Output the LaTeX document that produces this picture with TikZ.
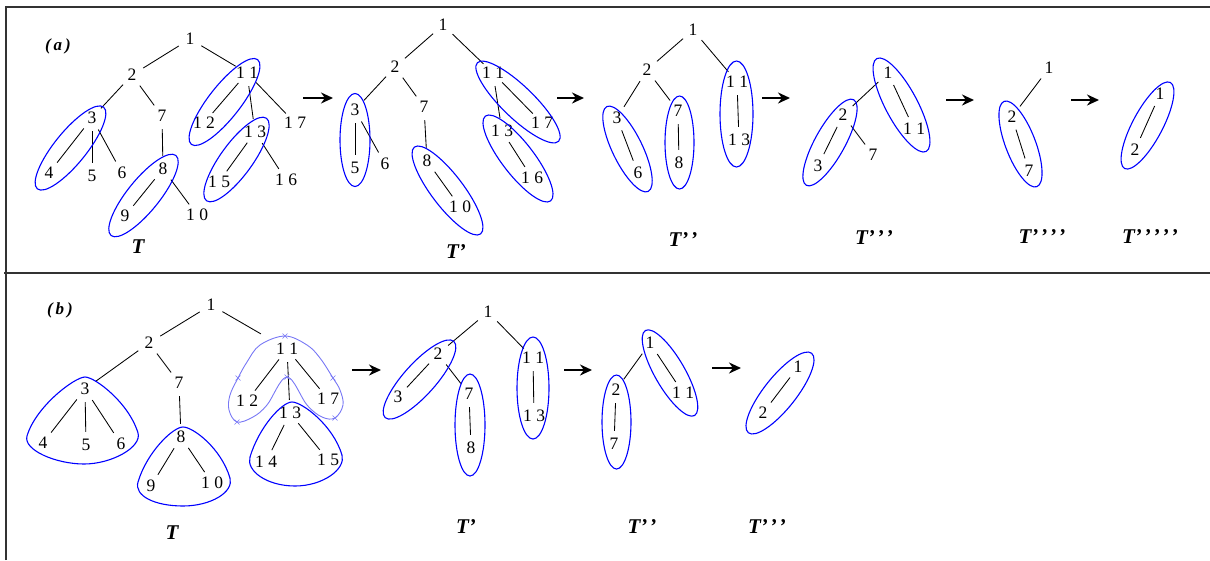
\documentclass[tikz,border=0pt]{standalone}
\usepackage{fontspec}
\setmainfont{Liberation Serif}
\usetikzlibrary{arrows.meta}
\newcommand\tw[2]{#1\kern4.5pt#2}
\newcommand\pp{’\kern2pt}
\newcommand\grp[5]{\draw[grp, rotate around={#3:(#1,#2)}] (#1,#2) ellipse [x radius=#4pt, y radius=#5pt];}
\newcommand\rtri[8]{\draw[grp, line cap=round] (#1,#2) .. controls +(-10,0) and +(9,-30) .. (#3,#4) .. controls +(-4,14) and +(-28,0) .. (#5,#6) .. controls +(28,0) and +(4,14) .. (#7,#8) .. controls +(-9,-30) and +(10,0) .. (#1,#2);}
\definecolor{heartblue}{RGB}{120,120,245}
\begin{document}
\begin{tikzpicture}[x=1pt,y=-1pt,
  v/.style={circle,inner sep=0pt,minimum size=26pt,font=\fontsize{17.5}{17.5}\selectfont},
  e/.style={black,line width=0.85pt},
  grp/.style={blue,line width=1.1pt},
  lab/.style={font=\fontsize{21}{21}\selectfont\bfseries\itshape},
  plab/.style={font=\fontsize{17}{17}\selectfont\bfseries\itshape},
  arr/.style={-{Stealth[length=12pt,width=11pt]},line width=2pt},
  frame/.style={black!80,line width=1.2pt},
  heart/.style={heartblue,line width=0.9pt}]
\useasboundingbox (0,0) rectangle (1210,560);
% frame
\draw[frame] (6,560) -- (6,7) -- (1210,7);
\draw[frame] (4,273) -- (1210,273);
\node[plab] (la) at (58,46) {(\kern3pt a\kern3pt)};
\node[plab] (lb) at (60,310) {(\kern3pt b\kern3pt)};

% ===== panel (a): T =====
\node[v] (a1) at (190,39) {1};
\node[v] (a2) at (132,75) {2};
\node[v] (a11) at (247,73) {\tw11};
\node[v] (a3) at (92,118) {3};
\node[v] (a7) at (162,116) {7};
\node[v] (a12) at (204,123) {\tw12};
\node[v] (a17) at (295,123) {\tw17};
\node[v] (a13) at (255,132) {\tw13};
\node[v] (a4) at (49,173) {4};
\node[v] (a5) at (92,176) {5};
\node[v] (a6) at (122,173) {6};
\node[v] (a8) at (163,169) {8};
\node[v] (a15) at (219,182) {\tw15};
\node[v] (a16) at (286,180) {\tw16};
\node[v] (a9) at (125,216) {9};
\node[v] (a10) at (197,215) {\tw10};
\node[lab] (aT) at (138,247) {T};
\foreach \s/\t in {a1/a2,a1/a11,a2/a3,a2/a7,a3/a4,a3/a5,a3/a6,a7/a8,a8/a9,a8/a10,a11/a12,a11/a13,a11/a17,a13/a15,a13/a16}
  \draw[e] (\s) -- (\t);
\grp{70.5}{148}{51}{52.6}{16}
\grp{224.5}{102}{52}{53.8}{16}
\grp{143.5}{195.5}{51}{51.5}{16}
\grp{236.5}{159.5}{54}{51}{16}

% ===== T' =====
\node[v] (b1) at (443,25) {1};
\node[v] (b2) at (395,67) {2};
\node[v] (b11) at (493,73) {\tw11};
\node[v] (b3) at (355,110) {3};
\node[v] (b7) at (424,107) {7};
\node[v] (b13) at (502,131) {\tw13};
\node[v] (b17) at (542,123) {\tw17};
\node[v] (b5) at (355,168) {5};
\node[v] (b6) at (385,164) {6};
\node[v] (b8) at (427,161) {8};
\node[v] (b16) at (532,178) {\tw16};
\node[v] (b10) at (460,207) {\tw10};
\node[lab] (bT) at (457,252) {T\pp};
\foreach \s/\t in {b1/b2,b1/b11,b2/b3,b2/b7,b3/b5,b3/b6,b7/b8,b8/b10,b11/b13,b11/b17,b13/b16}
  \draw[e] (\s) -- (\t);
\grp{355}{140}{90}{46.5}{15}
\grp{447.5}{190.5}{-52.7}{54.6}{16}
\grp{518}{102}{-44}{56.5}{16}
\grp{518}{158.5}{-52.4}{53.5}{16}

% ===== T'' =====
\node[v] (c1) at (693,30) {1};
\node[v] (c2) at (647,70) {2};
\node[v] (c11) at (737,82) {\tw11};
\node[v] (c3) at (617,118) {3};
\node[v] (c7) at (678,111) {7};
\node[v] (c13) at (739,140) {\tw13};
\node[v] (c6) at (638,173) {6};
\node[v] (c8) at (679,163) {8};
\node[lab] (cT) at (684,240) {T\pp\pp};
\foreach \s/\t in {c1/c2,c1/c11,c2/c3,c2/c7,c3/c6,c7/c8,c11/c13}
  \draw[e] (\s) -- (\t);
\grp{627.5}{149}{-64}{47.2}{15}
\grp{679.5}{142.5}{90}{46.5}{14.5}
\grp{736.5}{114}{90}{53}{16.5}

% ===== T''' =====
\node[v] (d1) at (888,73) {1};
\node[v] (d2) at (843,115) {2};
\node[v] (d7) at (873,155) {7};
\node[v] (d11) at (914,129) {\tw11};
\node[v] (d3) at (818,166) {3};
\node[lab] (dT) at (875,238) {T\pp\pp\pp};
\foreach \s/\t in {d1/d2,d2/d3,d2/d7,d1/d11}
  \draw[e] (\s) -- (\t);
\grp{830}{142.5}{61}{48.9}{15}
\grp{901.5}{105}{-62}{52.6}{16}

% ===== T'''' =====
\node[v] (e1) at (1049,68) {1};
\node[v] (e2) at (1012,117) {2};
\node[v] (e7) at (1029,171) {7};
\node[lab] (eT) at (1043,237) {T\pp\pp\pp\pp};
\draw[e] (e1) -- (e2);
\draw[e] (e2) -- (e7);
\grp{1020.5}{144}{-69}{45.7}{15}

% ===== T''''' =====
\node[v] (f1) at (1160,94) {1};
\node[v] (f2) at (1135,150) {2};
\node[lab] (fT) at (1151,237) {T\pp\pp\pp\pp\pp};
\draw[e] (f1) -- (f2);
\grp{1147.5}{125.5}{62}{48.7}{15}

% arrows (a)
\coordinate (aa1) at (303,98); \coordinate (ab1) at (333,98);
\coordinate (aa2) at (557,98); \coordinate (ab2) at (584,98);
\coordinate (aa3) at (762,98); \coordinate (ab3) at (790,98);
\coordinate (aa4) at (946,100); \coordinate (ab4) at (974,100);
\coordinate (aa5) at (1071,100); \coordinate (ab5) at (1099,100);
\foreach \i in {1,...,5} \draw[arr] (aa\i) -- (ab\i);

% ===== panel (b): T =====
\node[v] (g1) at (211,305) {1};
\node[v] (g2) at (149,343) {2};
\node[v] (g11) at (287,349) {\tw11};
\node[v] (g3) at (85,389) {3};
\node[v] (g7) at (179,383) {7};
\node[v] (g12) at (247,401) {\tw12};
\node[v] (g17) at (328,399) {\tw17};
\node[v] (g13) at (290,413) {\tw13};
\node[v] (g4) at (43,443) {4};
\node[v] (g5) at (86,445) {5};
\node[v] (g6) at (121,444) {6};
\node[v] (g8) at (181,437) {8};
\node[v] (g14) at (266,462) {\tw14};
\node[v] (g15) at (328,460) {\tw15};
\node[v] (g9) at (151,486) {9};
\node[v] (g10) at (212,483) {\tw10};
\node[lab] (gT) at (172,533) {T};
\foreach \s/\t in {g1/g2,g2/g3,g2/g7,g3/g4,g3/g5,g3/g6,g7/g8,g8/g9,g8/g10,g11/g12,g11/g13,g11/g17,g13/g14,g13/g15}
  \draw[e] (\s) -- (\t);
\draw[e, shorten >=17pt] (g1) -- (g11);
\rtri{85}{377}{27}{436}{84}{464}{138}{433}
\rtri{183}{427}{138}{482}{183}{506}{230}{478}
\rtri{292}{402}{250}{457}{295}{486}{342}{455}
\draw[heart] plot[smooth cycle, tension=0.6] coordinates {(285,336) (260,345) (247,362) (238,378) (230,395) (229,410) (237,422) (253,417) (267,405) (287,377) (307,405) (322,417) (335,418) (343,405) (340,390) (333,378) (320,358) (307,345)};
\foreach \px/\py in {285/336, 238/378, 237/422, 287/377, 335/418, 333/378}
  \draw[heartblue, line width=0.6pt] (\px-2.5,\py-2.5) -- (\px+2.5,\py+2.5) (\px-2.5,\py+2.5) -- (\px+2.5,\py-2.5);

% ===== T' (b) =====
\node[v] (h1) at (488,312) {1};
\node[v] (h2) at (438,354) {2};
\node[v] (h3) at (398,397) {3};
\node[v] (h7) at (469,394) {7};
\node[v] (h8) at (471,448) {8};
\node[v] (h11) at (533,358) {\tw11};
\node[v] (h13) at (534,416) {\tw13};
\node[lab] (hT) at (467,527) {T\pp};
\foreach \s/\t in {h1/h2,h1/h11,h2/h3,h2/h7,h7/h8,h11/h13}
  \draw[e] (\s) -- (\t);
\grp{419.5}{379.5}{48}{51.3}{16}
\grp{470}{425}{90}{51}{15}
\grp{533}{388}{90}{51}{16}

% ===== T'' (b) =====
\node[v] (i1) at (650,343) {1};
\node[v] (i2) at (616,390) {2};
\node[v] (i7) at (614,444) {7};
\node[v] (i11) at (683,393) {\tw11};
\node[lab] (iT) at (643,527) {T\pp\pp};
\foreach \s/\t in {i1/i2,i1/i11,i2/i7}
  \draw[e] (\s) -- (\t);
\grp{616.5}{422}{90}{47}{14.5}
\grp{670}{373}{-60}{49.1}{15}

% ===== T''' (b) =====
\node[v] (j1) at (798,367) {1};
\node[v] (j2) at (763,413) {2};
\node[lab] (jT) at (768,527) {T\pp\pp\pp};
\draw[e] (j1) -- (j2);
\grp{780}{393}{51.5}{50.8}{16}

% arrows (b)
\coordinate (ba1) at (352,370); \coordinate (bb1) at (381,370);
\coordinate (ba2) at (564,370); \coordinate (bb2) at (592,370);
\coordinate (ba3) at (712,368); \coordinate (bb3) at (741,368);
\foreach \i in {1,2,3} \draw[arr] (ba\i) -- (bb\i);
\end{tikzpicture}
\end{document}
